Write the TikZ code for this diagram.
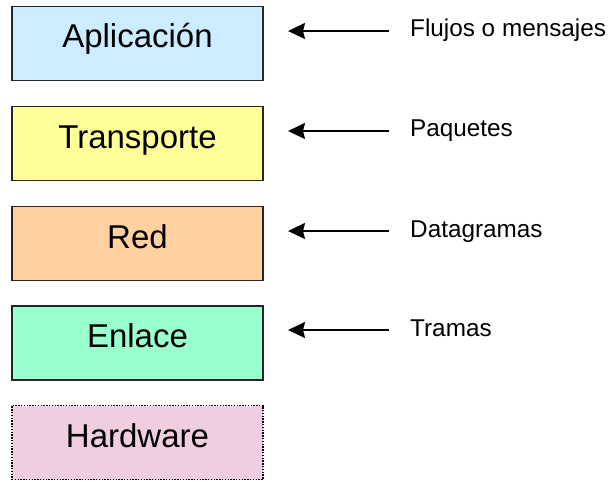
\documentclass[tikz,border=0pt]{standalone}
\usepackage{fontspec}
\setmainfont{Liberation Sans}
\usetikzlibrary{arrows.meta}
\definecolor{capaA}{RGB}{204,236,255}
\definecolor{capaT}{RGB}{255,255,153}
\definecolor{capaR}{RGB}{255,208,160}
\definecolor{capaE}{RGB}{153,255,204}
\definecolor{capaH}{RGB}{240,206,226}
\tikzset{
  layer/.style={draw=black!85, line width=1.4pt, minimum width=251pt, minimum height=74pt,
    inner sep=0pt, text height=24pt, text depth=15pt,
    font=\fontsize{33}{36}\selectfont, text=black},
  unitlabel/.style={anchor=west, inner sep=0pt, text height=17pt, text depth=0pt,
    font=\fontsize{24.3}{26}\selectfont},
  pointer/.style={-{Stealth[length=17pt,width=16pt,inset=2pt]}, line width=1.8pt},
}
\begin{document}
\begin{tikzpicture}[x=1pt,y=-1pt]
  \useasboundingbox (0,0) rectangle (609,481);
  % protocol stack layers
  \node[layer, fill=capaA] (app) at (137.5,43.5) {Aplicación};
  \node[layer, fill=capaT] (tra) at (137.5,143.5) {Transporte};
  \node[layer, fill=capaR] (red) at (137.5,243.5) {Red};
  \node[layer, fill=capaE] (enl) at (137.5,343) {Enlace};
  \node[layer, fill=capaH, draw=black, line width=1.6pt, dash pattern=on 1.4pt off 1.4pt] (hw) at (137.5,442.5) {Hardware};
  % data unit names
  \node[unitlabel] (lapp) at (410,28.5) {Flujos o mensajes};
  \node[unitlabel] (ltra) at (410,128.5) {Paquetes};
  \node[unitlabel] (lred) at (410,228.5) {Datagramas};
  \node[unitlabel] (lenl) at (410,327.5) {Tramas};
  % arrow ends
  \coordinate (sapp) at (389,31);
  \coordinate (eapp) at (288,31);
  \coordinate (stra) at (389,131);
  \coordinate (etra) at (288,131);
  \coordinate (sred) at (389,231);
  \coordinate (ered) at (288,231);
  \coordinate (senl) at (389,330);
  \coordinate (eenl) at (288,330);
  \draw[pointer] (sapp) -- (eapp);
  \draw[pointer] (stra) -- (etra);
  \draw[pointer] (sred) -- (ered);
  \draw[pointer] (senl) -- (eenl);
\end{tikzpicture}
\end{document}
